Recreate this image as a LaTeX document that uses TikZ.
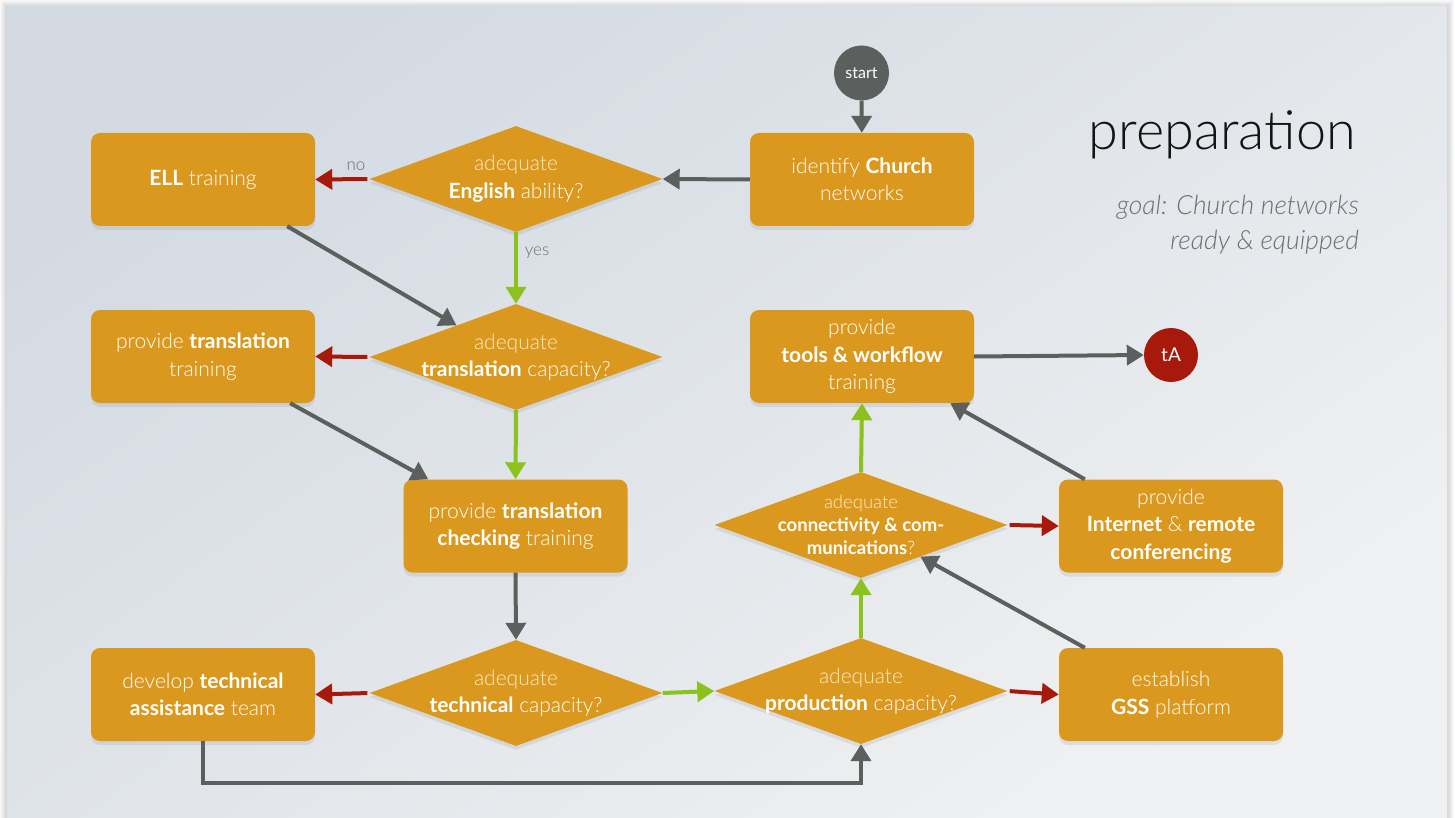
\documentclass[tikz,border=0pt]{standalone}
\usepackage{fontspec}
\setmainfont{Lato}
\newfontfamily\lightfont{Lato Light}
\usetikzlibrary{shapes.geometric,arrows.meta,shadows}

\definecolor{boxor}{HTML}{DA991E}
\definecolor{arrgray}{HTML}{5B605F}
\definecolor{arrred}{HTML}{A7190B}
\definecolor{arrgreen}{HTML}{8CC21E}
\definecolor{slidetop}{HTML}{D3DAE2}
\definecolor{slidebot}{HTML}{F0F1F2}
\definecolor{cream}{HTML}{FBE9C6}
\definecolor{goalgray}{HTML}{6E6E6E}

\newcommand\kw[1]{{\normalfont\bfseries #1}}

\tikzset{
  softshadow/.style={drop shadow={opacity=0.16, shadow xshift=0pt, shadow yshift=-4pt}},
  box/.style={rounded corners=9pt, fill=boxor, minimum width=224pt, minimum height=93pt,
    align=center, text=white, inner sep=4pt,
    font=\lightfont\fontsize{21}{27.5}\selectfont, softshadow},
  dia/.style={diamond, fill=boxor, minimum width=293pt, minimum height=106pt,
    inner sep=0pt, softshadow},
  dtext/.style={align=center, text=white, font=\lightfont\fontsize{21}{27.5}\selectfont},
  dsmall/.style={align=center, text=white, font=\lightfont\fontsize{18.5}{23}\selectfont},
  conn/.style={line width=4pt, -{Triangle[length=17pt,width=20pt]}},
  grayarr/.style={conn, draw=arrgray},
  redarr/.style={conn, draw=arrred, shorten <=2pt},
  greenarr/.style={conn, draw=arrgreen},
  lbl/.style={text=goalgray, font=\lightfont\fontsize{17}{19}\selectfont},
}

\begin{document}
\begin{tikzpicture}[x=1pt,y=-1pt]
\useasboundingbox (0,0) rectangle (1455,818);
\fill[white] (0,0) rectangle (1455,818);

% slide with a soft edge shadow
\foreach \i in {1,...,7}{
  \fill[black, opacity=0.025] (7-\i,7-\i) rectangle (1447+\i,830);
}
\shade[top color=slidetop, bottom color=slidebot, shading angle=35]
  (7,7) rectangle (1447,830);

% title and goal
\node[anchor=base east, inner sep=0pt, text=black!92,
      font=\lightfont\fontsize{54}{60}\selectfont] (title) at (1356,150) {preparation};
\node[anchor=base east, inner sep=0pt, text=goalgray,
      font=\lightfont\itshape\fontsize{26.5}{30}\selectfont] (goal1) at (1359,215) {goal: Church networks};
\node[anchor=base east, inner sep=0pt, text=goalgray,
      font=\lightfont\itshape\fontsize{26.5}{30}\selectfont] (goal2) at (1359,250) {ready \& equipped};

% start and end markers
\node[circle, fill=arrgray, minimum size=55pt, inner sep=0pt, text=white,
      font=\fontsize{16}{18}\selectfont] (start) at (861.5,73) {start};
\node[circle, fill=arrred, minimum size=54pt, inner sep=0pt, text=white,
      font=\fontsize{19}{21}\selectfont] (ta) at (1171,355) {tA};

% process boxes
\node[box] (ident) at (862,179.5) {identify \kw{Church}\\networks};
\node[box] (ell) at (203,179.5) {\kw{ELL} training};
\node[box] (trans) at (203,356.5) {provide \kw{translation}\\training};
\node[box] (check) at (515.5,526) {provide \kw{translation}\\\kw{checking} training};
\node[box] (techteam) at (203,694.5) {develop \kw{technical}\\\kw{assistance} team};
\node[box] (gss) at (1171,694.5) {establish\\\kw{GSS} platform};
\node[box] (inet) at (1171,526) {provide\\\kw{Internet} \& \kw{remote}\\\kw{conferencing}};
\node[box] (tools) at (862,356.5) {provide\\\kw{tools \& workflow}\\training};

% decisions
\node[dia, label={[dtext]center:{\textcolor{cream}{adequate}\\\kw{English} ability?}}] (d1) at (516,179) {};
\node[dia, label={[dtext]center:{\textcolor{cream}{adequate}\\\kw{translation} capacity?}}] (d2) at (516,357) {};
\node[dia, label={[dtext]center:{\textcolor{cream}{adequate}\\\kw{technical} capacity?}}] (d3) at (516,693) {};
\node[dia, label={[dtext]center:{\textcolor{cream}{adequate}\\\kw{production} capacity?}}] (d4) at (861,691) {};
\node[dia, label={[dsmall]center:{\textcolor{cream}{adequate}\\\kw{connectivity \& com-}\\\kw{munications}?}}] (d5) at (861,525) {};

% branch labels
\node[lbl] (nolbl) at (356,166) {no};
\node[lbl] (yeslbl) at (537,253) {yes};

% connectors
\draw[grayarr] (start) -- (ident);
\draw[grayarr] (ident.west) -- (d1.east);
\draw[redarr] (d1.west) -- (ell.east);
\draw[greenarr] (d1.south) -- (d2.north);
\draw[grayarr] ([xshift=-28pt]ell.south east) -- (d2.152);
\draw[redarr] (d2.west) -- (trans.east);
\draw[greenarr] (d2.south) -- (check.north);
\draw[grayarr] ([xshift=-25pt]trans.south east) -- ([xshift=25pt]check.north west);
\draw[grayarr] (check.south) -- (d3.north);
\draw[redarr] (d3.west) -- (techteam.east);
\draw[greenarr] (d3.east) -- (d4.west);
\draw[grayarr] (techteam.south) -- ++(0,42) -| (d4.south);
\draw[redarr] (d4.east) -- (gss.west);
\draw[greenarr] (d4.north) -- (d5.south);
\draw[grayarr] ([xshift=26pt]gss.north west) -- (d5.-28);
\draw[redarr] (d5.east) -- (inet.west);
\draw[greenarr] (d5.north) -- (tools.south);
\draw[grayarr] ([xshift=26pt]inet.north west) -- ([xshift=-24pt]tools.south east);
\draw[grayarr] (tools.east) -- (ta.west);
\end{tikzpicture}
\end{document}
